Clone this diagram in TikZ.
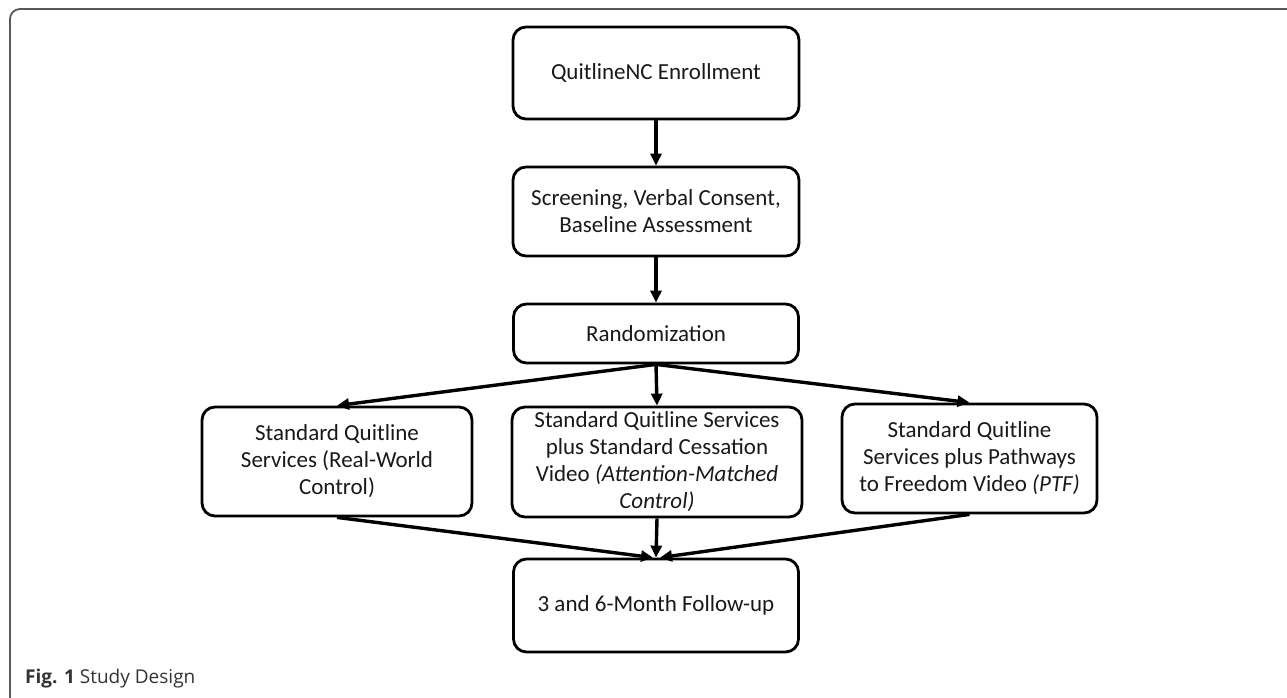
\documentclass[tikz,border=0pt]{standalone}
\usepackage{fontspec}
\setmainfont{Carlito}
\newfontfamily\capfont{Open Sans}
\usetikzlibrary{arrows.meta}
\begin{document}
\begin{tikzpicture}[x=1pt,y=-1pt,
  box/.style={draw=black,line width=2.8pt,rounded corners=13pt,align=center,
    font=\fontsize{23}{27}\selectfont,text=black!90,inner sep=0pt},
  conn/.style={line width=3.4pt,-{Triangle[length=12pt,width=11pt]}}]
\useasboundingbox (0,0) rectangle (1287,697);
\begin{scope}
\clip (0,0) rectangle (1287,697);
\draw[gray!70!black,line width=1.8pt,rounded corners=10pt] (10,9) rectangle (1320,730);
\end{scope}
\node[box,minimum width=286pt,minimum height=92pt] (enr) at (656,73) {QuitlineNC Enrollment};
\node[box,minimum width=286pt,minimum height=89pt] (scr) at (656,211.5) {Screening, Verbal Consent,\\Baseline Assessment};
\node[box,minimum width=285pt,minimum height=59pt] (rand) at (656,333.5) {Randomization};
\node[box,minimum width=270pt,minimum height=109pt] (lb) at (337,461.5) {Standard Quitline\\Services (Real-World\\Control)};
\node[box,minimum width=290pt,minimum height=110pt] (mb) at (657,462) {Standard Quitline Services\\plus Standard Cessation\\Video \textit{(Attention-Matched}\\\textit{Control)}};
\node[box,minimum width=255pt,minimum height=109pt] (rb) at (969.5,458.5) {Standard Quitline\\Services plus Pathways\\to Freedom Video \textit{(PTF)}};
\node[box,minimum width=285pt,minimum height=93pt] (fu) at (656,605.5) {3 and 6-Month Follow-up};
\draw[conn] (enr) -- (scr);
\draw[conn] (scr) -- (rand);
\draw[conn] (rand.south) -- (lb.north);
\draw[conn] (rand.south) -- (mb.north);
\draw[conn] (rand.south) -- (rb.north);
\draw[conn] (lb.south) -- ([xshift=-3pt]fu.north);
\draw[conn] (mb.south) -- (fu.north);
\draw[conn] (rb.south) -- ([xshift=4pt]fu.north);
\node[anchor=base west,inner sep=0pt,font=\capfont\fontsize{19}{22}\selectfont,text=black!80] (cap) at (25,683) {\textbf{Fig. 1} Study Design};
\end{tikzpicture}
\end{document}
